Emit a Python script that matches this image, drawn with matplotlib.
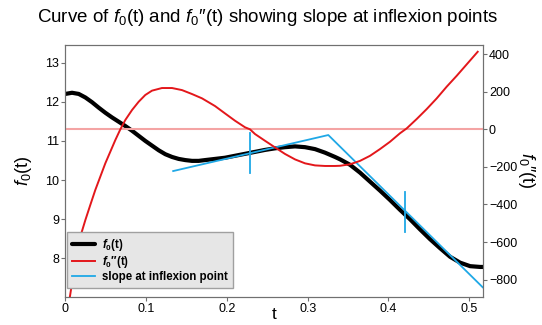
import matplotlib
matplotlib.use('Agg')
import matplotlib.pyplot as plt

plt.rcParams['font.family'] = ['Liberation Sans', 'DejaVu Sans']
plt.rcParams['mathtext.fontset'] = 'custom'
plt.rcParams['mathtext.rm'] = 'Liberation Sans'
plt.rcParams['mathtext.it'] = 'Liberation Sans:italic'
plt.rcParams['mathtext.bf'] = 'Liberation Sans:bold'
plt.rcParams['mathtext.bfit'] = 'Liberation Sans:italic:bold'

# f0(t)
t_f0 = [0.0, 0.0083, 0.0166, 0.0248, 0.0330, 0.0413, 0.0495, 0.0578, 0.0661, 0.0743,
        0.0826, 0.0908, 0.0990, 0.1073, 0.1156, 0.1238, 0.1321, 0.1403, 0.1485, 0.1568,
        0.1651, 0.1729, 0.1853, 0.1976, 0.2100, 0.2224, 0.2348, 0.2472, 0.2595, 0.2719,
        0.2843, 0.2967, 0.3091, 0.3214, 0.3338, 0.3400, 0.3524, 0.3647, 0.3771, 0.3895,
        0.4019, 0.4142, 0.4204, 0.4266, 0.4390, 0.4514, 0.4638, 0.4762, 0.4886, 0.5010,
        0.5134, 0.518]
f0 = [12.20, 12.23, 12.20, 12.11, 11.99, 11.85, 11.72, 11.60, 11.49, 11.38,
      11.26, 11.13, 11.00, 10.88, 10.76, 10.66, 10.59, 10.54, 10.51, 10.49,
      10.49, 10.51, 10.54, 10.57, 10.62, 10.67, 10.72, 10.77, 10.81, 10.84,
      10.86, 10.84, 10.79, 10.70, 10.59, 10.53, 10.39, 10.19, 9.96, 9.73,
      9.49, 9.24, 9.12, 9.00, 8.74, 8.49, 8.26, 8.04, 7.89, 7.80,
      7.78, 7.78]

# f0''(t), red curve on the right axis
t_f2 = [0.0, 0.0093, 0.0186, 0.0248, 0.0309, 0.0371, 0.0433, 0.0495, 0.0557, 0.0619,
        0.0681, 0.0743, 0.0826, 0.0908, 0.0990, 0.1073, 0.1196, 0.1321, 0.1444, 0.1568,
        0.1692, 0.1853, 0.1976, 0.2100, 0.2224, 0.2286, 0.2348, 0.2472, 0.2595, 0.2719,
        0.2843, 0.2967, 0.3091, 0.3214, 0.3338, 0.3400, 0.3524, 0.3647, 0.3771, 0.3895,
        0.4019, 0.4142, 0.4225, 0.4349, 0.4473, 0.4597, 0.4720, 0.4844, 0.4968, 0.5104]
f2 = [-1050, -790, -571, -483, -403, -323, -252, -181, -119, -57,
      0, 50, 103, 147, 183, 206, 220, 220, 209, 188,
      165, 124, 85, 46, 11, 0, -25, -61, -96, -131,
      -160, -181, -192, -195, -195, -194, -186, -168, -141, -105,
      -66, -21, 5, 55, 108, 165, 227, 285, 346, 413]

# slope (tangent) lines through the two inflexion points
t_slope = [0.1335, 0.3255, 0.5166]
f_slope = [10.23, 11.15, 7.26]
t_infl = [0.2286, 0.4204]
infl_lo = [10.17, 8.68]
infl_hi = [11.19, 9.70]

xticks = [0, 0.1, 0.2, 0.3, 0.4, 0.5]
xticklabels = ['0', '0.1', '0.2', '0.3', '0.4', '0.5']
yticks_left = [8, 9, 10, 11, 12, 13]
yticks_right = [-800, -600, -400, -200, 0, 200, 400]

black = '#000000'
red = '#e3171b'
blue = '#1fa8e6'
pink = '#f4a4a4'
spine_col = '#707070'

fig = plt.figure(figsize=(5.42, 3.25), dpi=100)
ax = fig.add_axes([0.1205, 0.0871, 0.7701, 0.7744])
ax2 = ax.twinx()

l1, = ax.plot(t_f0, f0, color=black, lw=3.0, solid_capstyle='round',
              label=r'$\mathbfit{f}_\mathbf{0}$(t)')
l3, = ax.plot(t_slope, f_slope, color=blue, lw=1.3, label='slope at inflexion point')
for x, lo, hi in zip(t_infl, infl_lo, infl_hi):
    ax.plot([x, x], [lo, hi], color=blue, lw=1.3)

ax2.axhline(0, color=pink, lw=1.5)
l2, = ax2.plot(t_f2, f2, color=red, lw=1.4, label='$\\mathbfit{f}_\\mathbf{0}$\u2033(t)')

ax.set_xlim(0, 0.5166)
ax.set_ylim(7.02, 13.45)
ax2.set_ylim(-891, 449)

ax.set_xticks(xticks)
ax.set_xticklabels(xticklabels)
ax.set_yticks(yticks_left)
ax2.set_yticks(yticks_right)

for a in (ax, ax2):
    a.tick_params(direction='out', length=3, width=0.8, color=spine_col,
                  labelsize=9, pad=1.5)
    for s in a.spines.values():
        s.set_color(spine_col)
        s.set_linewidth(0.8)

ax.set_xlabel('t', fontsize=12.5, va='center')
ax.xaxis.set_label_coords(0.5, -0.072)
ax.set_ylabel('$f_0$(t)', fontsize=13, va='center', ha='center')
ax.yaxis.set_label_coords(-0.101, 0.5)
ax2.set_ylabel('$f_0$\u2033(t)', fontsize=13, rotation=-90, va='center', ha='center')
ax2.yaxis.set_label_coords(1.106, 0.5)

fig.text(0.494, 0.945, 'Curve of $f_0$(t) and $f_0$\u2033(t) showing slope at inflexion points',
         fontsize=13.5, ha='center', va='center')

leg = ax2.legend(handles=[l1, l2, l3], loc='lower left', bbox_to_anchor=(0.004, 0.033),
                 prop={'weight': 'bold', 'size': 8.3}, frameon=True, fancybox=False,
                 handlelength=2.0, borderpad=0.45, labelspacing=0.1, handletextpad=0.6,
                 borderaxespad=0)
leg.get_frame().set_facecolor('#e6e6e6')
leg.get_frame().set_edgecolor('#a0a0a0')
leg.get_frame().set_alpha(1)

fig.savefig('out.png', dpi=100)
